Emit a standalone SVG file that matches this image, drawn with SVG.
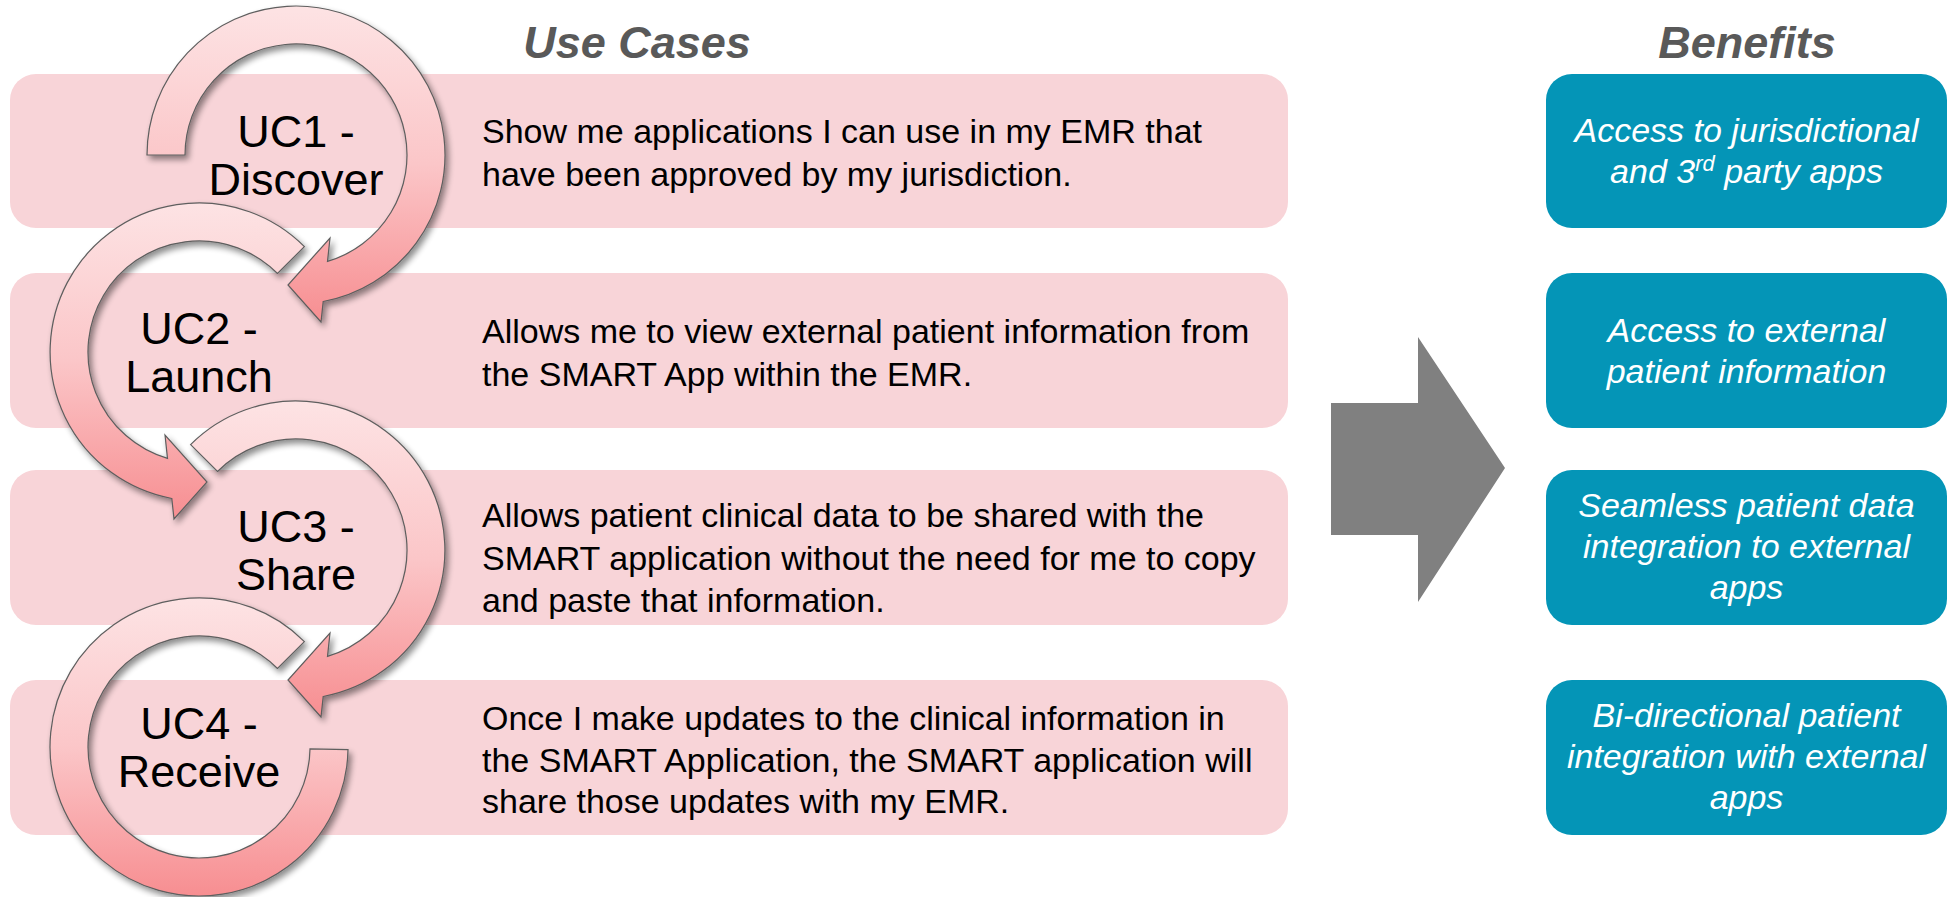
<svg xmlns="http://www.w3.org/2000/svg" width="1955" height="897" viewBox="0 0 1955 897">
<defs>
<style>
.title{font-family:"Liberation Sans",Arial,sans-serif;font-size:45px;font-weight:bold;font-style:italic;fill:#595959;text-anchor:middle}
.ucbox{fill:#f8d4d8}
.bbox{fill:#0495b7}
.body{font-family:"Liberation Sans",Arial,sans-serif;font-size:34px;fill:#000}
.ben{font-family:"Liberation Sans",Arial,sans-serif;font-size:34px;font-style:italic;fill:#fff;text-anchor:middle}
.uc{font-family:"Liberation Sans",Arial,sans-serif;font-size:45px;fill:#000;text-anchor:middle}
.ring{fill:url(#pinkGrad);stroke:#5e5e5e;stroke-width:1.2;filter:url(#shadow)}
</style>
<linearGradient id="pinkGrad" x1="0" y1="0" x2="0" y2="1">
<stop offset="0" stop-color="#fde3e4"/>
<stop offset="0.5" stop-color="#fbc6c8"/>
<stop offset="1" stop-color="#f78e91"/>
</linearGradient>
<filter id="shadow" x="-20%" y="-20%" width="140%" height="140%">
<feGaussianBlur in="SourceAlpha" stdDeviation="3"/>
<feOffset dx="3" dy="4" result="b"/>
<feComponentTransfer><feFuncA type="linear" slope="0.45"/></feComponentTransfer>
<feMerge><feMergeNode/><feMergeNode in="SourceGraphic"/></feMerge>
</filter>
</defs>
<rect width="1955" height="897" fill="#fff"/>

<g id="titles">
<text class="title" x="637" y="58">Use Cases</text>
<text class="title" x="1747" y="58">Benefits</text>
</g>

<g id="uc1"><rect class="ucbox" x="10" y="74" width="1278" height="154" rx="26"/>
<text class="body" x="482" y="143">Show me applications I can use in my EMR that</text>
<text class="body" x="482" y="186">have been approved by my jurisdiction.</text></g>
<g id="uc2"><rect class="ucbox" x="10" y="273" width="1278" height="155" rx="26"/>
<text class="body" x="482" y="343">Allows me to view external patient information from</text>
<text class="body" x="482" y="386">the SMART App within the EMR.</text></g>
<g id="uc3"><rect class="ucbox" x="10" y="470" width="1278" height="155" rx="26"/>
<text class="body" x="482" y="527">Allows patient clinical data to be shared with the</text>
<text class="body" x="482" y="570">SMART application without the need for me to copy</text>
<text class="body" x="482" y="612">and paste that information.</text></g>
<g id="uc4"><rect class="ucbox" x="10" y="680" width="1278" height="155" rx="26"/>
<text class="body" x="482" y="730">Once I make updates to the clinical information in</text>
<text class="body" x="482" y="772">the SMART Application, the SMART application will</text>
<text class="body" x="482" y="813">share those updates with my EMR.</text></g>

<g id="benefit1"><rect class="bbox" x="1546" y="74" width="401" height="154" rx="26"/>
<text class="ben" x="1746.5" y="142">Access to jurisdictional</text>
<text class="ben" x="1746.5" y="183">and 3<tspan font-size="22" dy="-12">rd</tspan><tspan dy="12"> party apps</tspan></text></g>
<g id="benefit2"><rect class="bbox" x="1546" y="273" width="401" height="155" rx="26"/>
<text class="ben" x="1746.5" y="342">Access to external</text>
<text class="ben" x="1746.5" y="383">patient information</text></g>
<g id="benefit3"><rect class="bbox" x="1546" y="470" width="401" height="155" rx="26"/>
<text class="ben" x="1746.5" y="517">Seamless patient data</text>
<text class="ben" x="1746.5" y="558">integration to external</text>
<text class="ben" x="1746.5" y="599">apps</text></g>
<g id="benefit4"><rect class="bbox" x="1546" y="680" width="401" height="155" rx="26"/>
<text class="ben" x="1746.5" y="727">Bi-directional patient</text>
<text class="ben" x="1746.5" y="768">integration with external</text>
<text class="ben" x="1746.5" y="809">apps</text></g>

<g id="connectors">
<path id="ring4" class="ring" d="M304.4,641.6 A149,149 0 1 0 348,749.6 L310,748.9 A111,111 0 1 1 277.5,668.5 Z"/>
<path id="ring3" class="ring" d="M190.6,444.6 A149,149 0 1 1 323.2,696.5 L321,717 L288,680 L330,633 L327.5,656.4 A111,111 0 1 0 217.5,471.5 Z"/>
<path id="ring2" class="ring" d="M304.4,246.6 A149,149 0 1 0 171.8,498.5 L174,519 L207,482 L165,435 L167.5,458.4 A111,111 0 1 1 277.5,273.5 Z"/>
<path id="ring1" class="ring" d="M147,155 A149,149 0 1 1 323.2,301.5 L321,322 L288,285 L330,238 L327.5,261.4 A111,111 0 1 0 185,155 Z"/>
<polygon id="bigArrow" points="1331,403 1418,403 1418,337 1505,468 1418,602 1418,535 1331,535" fill="#808080"/>
</g>

<g id="uclabels">
<text class="uc" x="296" y="147">UC1 -</text><text class="uc" x="296" y="195">Discover</text>
<text class="uc" x="199" y="344">UC2 -</text><text class="uc" x="199" y="392">Launch</text>
<text class="uc" x="296" y="542">UC3 -</text><text class="uc" x="296" y="590">Share</text>
<text class="uc" x="199" y="739">UC4 -</text><text class="uc" x="199" y="787">Receive</text>
</g>
</svg>
